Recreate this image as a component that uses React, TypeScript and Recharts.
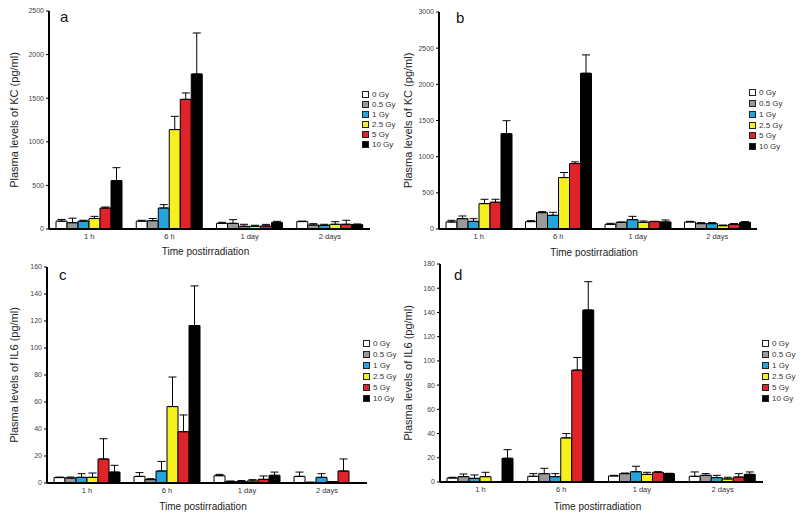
import React from "react";
import { BarChart, Bar, XAxis, YAxis, Legend, ErrorBar } from "recharts";

const times = ["1 h", "6 h", "1 day", "2 days"];
const doses = ["0 Gy", "0.5 Gy", "1 Gy", "2.5 Gy", "5 Gy", "10 Gy"];

// rows = time points, columns = doses (0, 0.5, 1, 2.5, 5, 10 Gy)
const kcMeansA = [
  [90, 72, 90, 120, 240, 555],
  [90, 95, 241, 1140, 1487, 1778],
  [65, 65, 31, 31, 35, 76],
  [85, 46, 42, 54, 54, 50],
];
const kcErrorsA = [
  [20, 52, 10, 25, 12, 148],
  [10, 25, 38, 152, 73, 470],
  [12, 42, 23, 12, 18, 12],
  [6, 15, 12, 30, 46, 8],
];

const kcMeansB = [
  [97, 143, 106, 351, 370, 1317],
  [102, 226, 189, 711, 905, 2153],
  [65, 92, 129, 92, 102, 97],
  [97, 74, 74, 46, 65, 92],
];
const kcErrorsB = [
  [23, 37, 37, 60, 41, 180],
  [13, 14, 42, 70, 23, 254],
  [13, 5, 46, 19, 5, 28],
  [9, 14, 14, 9, 9, 10],
];

const il6MeansC = [
  [4, 3.7, 4.2, 4.2, 17.8, 8.1],
  [4.9, 2.5, 8.9, 56.6, 38, 116.6],
  [5.4, 1, 1, 1.5, 2.7, 5.7],
  [4.9, 0.5, 4.2, 1, 8.9, 0],
];
const il6ErrorsC = [
  [0.4, 0.7, 2.7, 3.2, 15, 5],
  [2.8, 0.7, 7.1, 21.9, 12.4, 29.4],
  [1, 0.5, 0.8, 1, 2.5, 2.4],
  [3.2, 0, 2.7, 0, 8.9, 0],
];

const il6MeansD = [
  [3.3, 4.4, 3, 4.4, 0, 19.6],
  [4.7, 6.9, 4.4, 36.4, 92.4, 142],
  [5, 6.9, 8.5, 6.3, 8, 6.9],
  [4.7, 5.5, 3.6, 2.5, 4.1, 6.3],
];
const il6ErrorsD = [
  [0.6, 2.2, 2.8, 3.6, 0, 7.1],
  [2.2, 4.4, 2.5, 3.6, 10.4, 23.4],
  [0.5, 0.5, 4.5, 1.7, 0.5, 0.3],
  [3.6, 1.4, 1.9, 1.4, 2.8, 2],
];

const ticksKcA = [0, 500, 1000, 1500, 2000, 2500];
const ticksKcB = [0, 500, 1000, 1500, 2000, 2500, 3000];
const ticksIl6C = [0, 20, 40, 60, 80, 100, 120, 140, 160];
const ticksIl6D = [0, 20, 40, 60, 80, 100, 120, 140, 160, 180];

const doseColors = ["#ffffff", "#9a9a9a", "#25a3dc", "#f7f020", "#df2328", "#000000"];

const FONT = '"Liberation Sans", Arial, Helvetica, sans-serif';

const panels = [
  {
    letter: "a", left: 0, top: 0, yLabel: "Plasma levels of KC (pg/ml)",
    means: kcMeansA, errors: kcErrorsA, ticks: ticksKcA,
    plot: { left: 49, right: 370, top: 11, bottom: 229 },
    labelX: 14, titleOffset: 2,
    legend: { x: 362, y: 94, row: 10 },
    letterPos: { x: 60, y: 9 },
  },
  {
    letter: "b", left: 400, top: 0, yLabel: "Plasma levels of KC (pg/ml)",
    means: kcMeansB, errors: kcErrorsB, ticks: ticksKcB,
    plot: { left: 39, right: 357, top: 12, bottom: 229 },
    labelX: 8, titleOffset: 1,
    legend: { x: 349, y: 93, row: 10.7 },
    letterPos: { x: 56, y: 10 },
  },
  {
    letter: "c", left: 0, top: 257, yLabel: "Plasma levels of IL6 (pg/ml)",
    means: il6MeansC, errors: il6ErrorsC, ticks: ticksIl6C,
    plot: { left: 47, right: 367, top: 10, bottom: 226 },
    labelX: 14, titleOffset: 4,
    legend: { x: 363, y: 87, row: 10.9 },
    letterPos: { x: 59, y: 10 },
  },
  {
    letter: "d", left: 400, top: 257, yLabel: "Plasma levels of IL6 (pg/ml)",
    means: il6MeansD, errors: il6ErrorsD, ticks: ticksIl6D,
    plot: { left: 40, right: 363, top: 7, bottom: 225 },
    labelX: 8, titleOffset: 4,
    legend: { x: 362, y: 87, row: 10.9 },
    letterPos: { x: 54, y: 10 },
  },
];

function DoseLegend({ row }: { row: number }) {
  return (
    <div style={{ fontFamily: FONT, fontSize: 8, color: "#333" }}>
      {doses.map((d, i) => (
        <div key={d} style={{ display: "flex", alignItems: "center", height: row, whiteSpace: "nowrap" }}>
          <span
            style={{
              display: "inline-block",
              width: 5,
              height: 5,
              background: doseColors[i],
              border: "1px solid #222",
              marginRight: 3,
            }}
          />
          {d}
        </div>
      ))}
    </div>
  );
}

function Panel({ cfg }: any) {
  const data = times.map((t, ti) => {
    const row: any = { time: t };
    doses.forEach((_, di) => {
      row[`d${di}`] = cfg.means[ti][di];
      row[`e${di}`] = [0, cfg.errors[ti][di]];
    });
    return row;
  });
  const yMax = cfg.ticks[cfg.ticks.length - 1];
  const { plot } = cfg;

  return (
    <div style={{ position: "absolute", left: cfg.left, top: cfg.top, width: 400, height: 257 }}>
      <BarChart
        width={400}
        height={257}
        data={data}
        margin={{ top: plot.top, right: 400 - plot.right, bottom: 0, left: 4 }}
        barCategoryGap={7}
        barGap={0}
      >
        <XAxis
          dataKey="time"
          height={257 - plot.bottom}
          interval={0}
          tickLine={false}
          tickSize={4}
          tickMargin={1}
          axisLine={{ stroke: "#000", strokeWidth: 2 }}
          tick={{ fontSize: 7.5, fill: "#333", fontFamily: FONT }}
          label={{
            value: "Time postirradiation",
            position: "insideBottom",
            offset: cfg.titleOffset,
            fontSize: 10,
            fill: "#222",
            fontFamily: FONT,
            dx: -4,
          }}
        />
        <YAxis
          width={plot.left - 4}
          domain={[0, yMax]}
          ticks={cfg.ticks}
          interval={0}
          allowDataOverflow
          tickSize={3}
          tickMargin={2}
          tickLine={{ stroke: "#000" }}
          axisLine={{ stroke: "#000", strokeWidth: 2 }}
          tick={{ fontSize: 7, fill: "#444", fontFamily: FONT }}
          label={{
            value: cfg.yLabel,
            angle: -90,
            position: "insideLeft",
            offset: cfg.labelX - 4,
            fontSize: 11,
            fill: "#222",
            fontFamily: FONT,
            style: { textAnchor: "middle" },
          }}
        />
        <Legend
          layout="vertical"
          align="center"
          verticalAlign="middle"
          wrapperStyle={{
            left: cfg.legend.x,
            top: cfg.legend.y - cfg.legend.row / 2,
            width: 45,
            height: cfg.legend.row * 6,
          }}
          content={() => <DoseLegend row={cfg.legend.row} />}
        />
        {doses.map((d, di) => (
          <Bar
            key={d}
            dataKey={`d${di}`}
            name={d}
            fill={doseColors[di]}
            stroke="#000"
            strokeWidth={1}
            isAnimationActive={false}
          >
            <ErrorBar dataKey={`e${di}`} width={4} stroke="#000" strokeWidth={1} direction="y" />
          </Bar>
        ))}
      </BarChart>
      <div
        style={{
          position: "absolute",
          left: cfg.letterPos.x,
          top: cfg.letterPos.y,
          fontFamily: FONT,
          fontSize: 15,
          lineHeight: "15px",
          color: "#111",
        }}
      >
        {cfg.letter}
      </div>
    </div>
  );
}

export default function App() {
  return (
    <div
      style={{
        position: "absolute",
        left: 0,
        top: 0,
        width: 800,
        height: 514,
        background: "#fff",
        fontFamily: FONT,
      }}
    >
      {panels.map((p) => (
        <Panel key={p.letter} cfg={p} />
      ))}
    </div>
  );
}
